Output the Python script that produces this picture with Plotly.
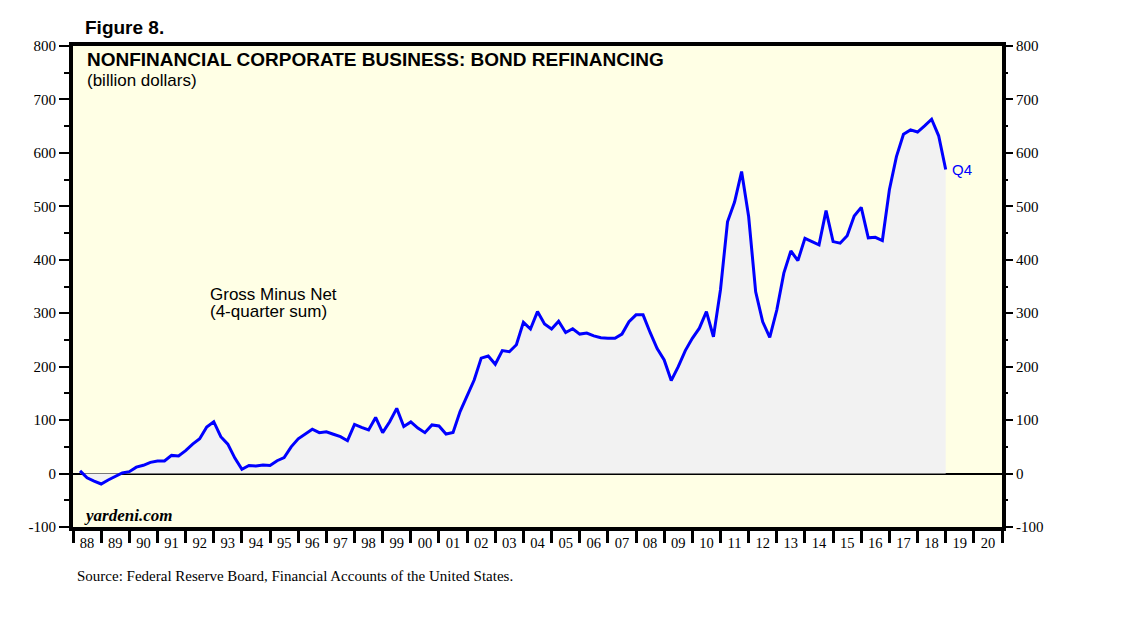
import plotly.graph_objects as go

# ---- data ----
quarters = [f"{y}Q{q}" for y in range(1988, 2019) for q in range(1, 5)]
refinancing = [
    5, -8, -14, -19.5, -12, -6, 1, 3.5, 12, 15.5, 21, 23.5, 23.5, 34, 33, 43,
    55, 65, 87, 97, 69, 55, 29, 8, 15, 14, 16, 15, 24, 30, 50, 65,
    74, 83, 76.5, 78, 73.5, 69, 61.5, 92, 86.5, 81.5, 105, 76.5, 97, 122, 88, 96.5,
    85, 76.5, 91, 89, 74, 77, 116, 144, 175, 216, 220, 204.5, 230, 228, 241,
    283, 270.5, 303, 280, 270.5, 285, 264, 271, 261, 263, 257.5, 254, 253, 253, 261, 284,
    297, 297, 264, 234, 212.5, 174, 200, 230, 253, 272, 303, 256, 344, 471, 508,
    565, 481, 340, 284, 255, 306, 375, 416.5, 398.5, 440, 434, 428, 492, 434, 431, 445,
    482, 498, 441, 442, 436, 531, 593, 635, 643, 639, 650.5, 663, 632, 569,
]
years = list(range(1988, 2021))
year_labels = [f"{y % 100:02d}" for y in years]
y_ticks = [-100, 0, 100, 200, 300, 400, 500, 600, 700, 800]
y_tick_labels = ["-100", "0", "100", "200", "300", "400", "500", "600", "700", "800"]

# quarter -> decimal year at quarter end
xpos = [int(q[:4]) + int(q[-1]) / 4 for q in quarters]

SERIF = "Liberation Serif"
SANS = "Liberation Sans"

fig = go.Figure()
fig.add_trace(go.Scatter(
    x=xpos, y=refinancing, mode="lines", fill="tozeroy",
    fillcolor="#f2f2f2", line=dict(color="#0000ff", width=3),
    showlegend=False, hoverinfo="skip"))
# invisible copy for right axis
fig.add_trace(go.Scatter(
    x=xpos, y=refinancing, mode="lines", yaxis="y2",
    line=dict(color="rgba(0,0,0,0)", width=0), showlegend=False, hoverinfo="skip"))

yminor = dict(tickmode="linear", tick0=-50, dtick=100, ticks="outside",
              ticklen=5, tickwidth=1.5, tickcolor="black", showgrid=False)

# page body has an 8px default margin, so the figure is 8px smaller
fig.update_layout(
    width=1130, height=613,
    margin=dict(l=65, r=136, t=38, b=94),
    paper_bgcolor="white", plot_bgcolor="#ffffe5",
    xaxis=dict(
        range=[1988, 2021], tickmode="array", automargin=False,
        tickvals=[y + 0.5 for y in years], ticktext=year_labels,
        ticks="outside", ticklen=0, tickcolor="rgba(0,0,0,0)",
        tickfont=dict(family=SERIF, size=14.5, color="black"),
        showgrid=False, zeroline=False,
        showline=True, linewidth=4, linecolor="black", mirror=True,
        minor=dict(tickmode="linear", tick0=1988, dtick=1, ticks="outside",
                   ticklen=12, tickwidth=3, tickcolor="black", showgrid=False),
    ),
    yaxis=dict(
        range=[-100, 800], tickmode="array", tickvals=y_ticks, ticktext=y_tick_labels,
        automargin=False,
        ticks="outside", ticklen=10, tickwidth=1.5, tickcolor="black",
        tickfont=dict(family=SERIF, size=15, color="black"),
        showgrid=False, zeroline=True, zerolinecolor="black", zerolinewidth=1.5,
        showline=True, linewidth=4, linecolor="black", mirror=True,
        layer="above traces", minor=yminor,
    ),
    yaxis2=dict(
        range=[-100, 800], overlaying="y", side="right", tickmode="array",
        tickvals=y_ticks, ticktext=y_tick_labels, automargin=False,
        ticks="outside", ticklen=10, tickwidth=1.5, tickcolor="black",
        tickfont=dict(family=SERIF, size=15, color="black"),
        showgrid=False, zeroline=False, showline=False, minor=yminor,
    ),
)

def ann(text, x, y, size, family=SANS, color="black", xref="paper", yref="paper",
        xanchor="left", yanchor="middle", xshift=0):
    fig.add_annotation(text=text, x=x, y=y, xref=xref, yref=yref, showarrow=False,
                       xanchor=xanchor, yanchor=yanchor, xshift=xshift,
                       font=dict(family=family, size=size, color=color))

ann("<b>Figure 8.</b>", 0.0108, 1.0395, 19)
ann("<b>NONFINANCIAL CORPORATE BUSINESS: BOND REFINANCING</b>", 0.0129, 0.971, 19)
ann("(billion dollars)", 0.0129, 0.929, 17)
ann("Gross Minus Net", 0.1453, 0.4844, 17)
ann("(4-quarter sum)", 0.1453, 0.447, 17)
ann("<b><i>yardeni.com</i></b>", 0.0097, 0.0229, 17, family=SERIF)
ann("Source: Federal Reserve Board, Financial Accounts of the United States.",
    0.0022, -0.1019, 15, family=SERIF)
ann("Q4", xpos[-1], refinancing[-1], 15, color="#0000ff", xref="x", yref="y", xshift=4)

fig.write_html("out.html")
